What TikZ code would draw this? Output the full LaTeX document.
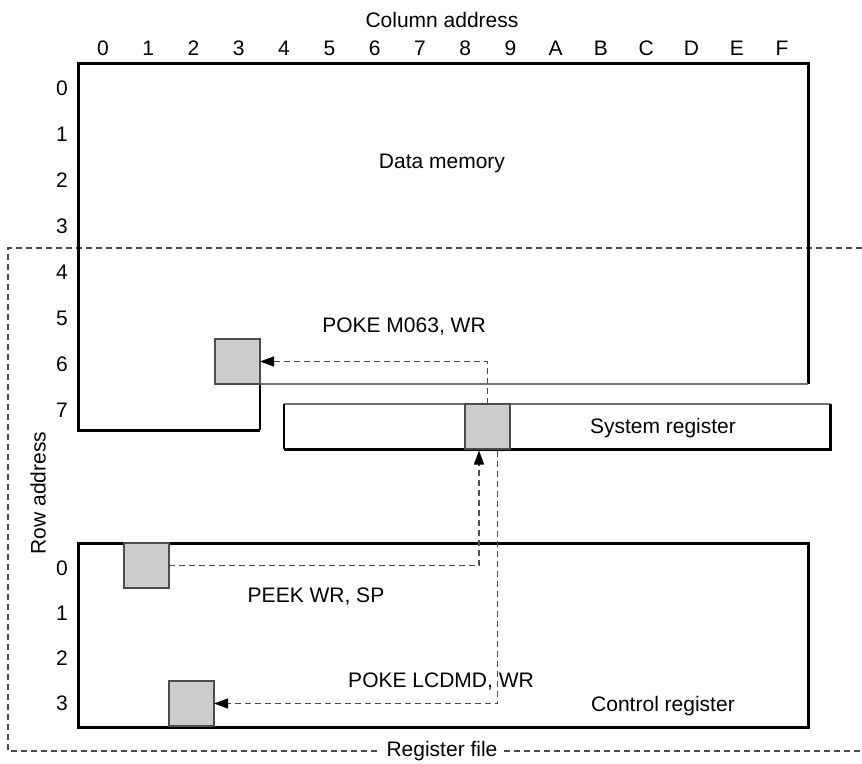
\documentclass[tikz,border=0pt]{standalone}
\usepackage{fontspec}
\setmainfont{Liberation Sans}
\usetikzlibrary{arrows.meta}
\begin{document}
\begin{tikzpicture}[x=1pt,y=-1pt,
  thickline/.style={line width=3pt, line join=miter, draw=black},
  thinline/.style={line width=1.2pt, draw=black!55},
  cell/.style={draw=black!70, fill=black!20, line width=1.2pt, minimum width=45pt, minimum height=45pt, inner sep=0pt, outer sep=0pt, anchor=north west},
  conn/.style={line width=1.2pt, draw=black!70, dash pattern=on 6pt off 4pt, -{Triangle[length=14pt,width=10pt,color=black]}},
  frame/.style={line width=1.2pt, draw=black!70, dash pattern=on 6pt off 4pt},
  lbl/.style={font=\fontsize{21}{25}\selectfont, inner sep=0pt}
]
\useasboundingbox (0,0) rectangle (862,763);

% register file frame
\node[lbl, fill=white, inner xsep=6pt] (rf) at (442,751) {Register file};
\draw[frame] (862,248) -- (8,248) -- (8,751) -- (rf.west);
\draw[frame] (rf.east) -- (862,751);

% data memory
\draw[thickline] (260,430) -- (78,430) -- (78,63) -- (808,63) -- (808,384);
\draw[thinline] (260,384) -- (808,384);
\draw[line width=1.2pt] (260,384) -- (260,430);
\node[cell] (dc) at (215,339) {};
\node[lbl] (dm) at (442,163) {Data memory};

% system register
\draw[thinline] (830,404) -- (284,404);
\draw[line width=1.2pt] (284,404) -- (284,449);
\draw[thickline] (284,449) -- (830,449) -- (830,404);
\node[cell] (sc) at (465,404) {};
\node[lbl] (sr) at (663,428) {System register};

% control register
\draw[thickline] (78,543) rectangle (808,727);
\node[cell] (c0) at (124,543) {};
\node[cell] (c3) at (169,681) {};
\node[lbl] (cr) at (663,706) {Control register};

% axis labels
\node[lbl] (ca) at (442,20) {Column address};
\foreach \t [count=\i from 0] in {0,1,2,3,4,5,6,7,8,9,A,B,C,D,E,F}
  \node[lbl] (col\i) at ({103+45.27*\i},48) {\t};
\foreach \i in {0,...,7}
  \node[lbl] (dr\i) at (62,{88+46*\i}) {\i};
\foreach \i in {0,...,3}
  \node[lbl] (cr\i) at (62,{568+45*\i}) {\i};
\node[lbl, rotate=90] (ra) at (38,493) {Row address};

% connectors
\draw[conn] (sc.north) |- (dc.east);
\node[lbl] (l1) at (404,327) {POKE M063, WR};
\draw[conn] (c0.east) -| ([xshift=-8.5pt,yshift=-1.5pt]sc.south);
\node[lbl] (l2) at (316,597) {PEEK WR, SP};
\draw[conn] ([xshift=10pt,yshift=-1.5pt]sc.south) |- (c3.east);
\node[lbl] (l3) at (441,682) {POKE LCDMD, WR};
\end{tikzpicture}
\end{document}
